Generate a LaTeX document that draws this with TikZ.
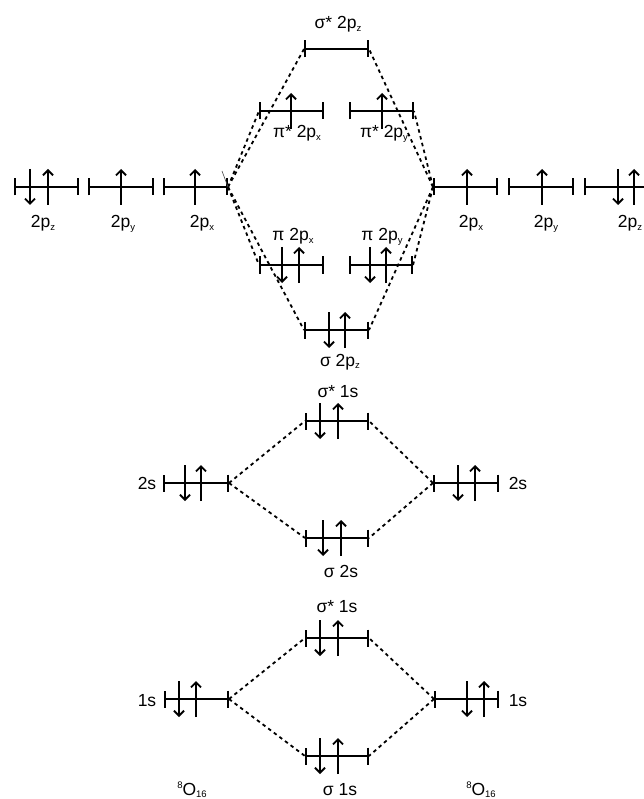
\documentclass[tikz,border=0pt]{standalone}
\usepackage{fontspec}
\setmainfont{Liberation Sans}
\usetikzlibrary{arrows.meta}
\newcommand\sbx[1]{\raisebox{-2.5pt}{\fontsize{9.5}{10}\selectfont #1}}
\newcommand\spx[1]{\raisebox{6.5pt}{\fontsize{9.5}{10}\selectfont #1}}
\tikzset{
  levelline/.style={line width=2.1pt, {Bar[width=17pt]}-{Bar[width=17pt]}},
  elec/.style={line width=1.9pt, -{Straight Barb[length=5pt,width=10pt]}},
  conn/.style={line width=1.8pt, dash pattern=on 3.5pt off 3.5pt},
  lab/.style={font=\fontsize{17.5}{20}\selectfont, inner sep=0pt, anchor=base},
}
\newcommand\lvl[4]{%
  \coordinate (#1-l) at (#2,#4);
  \coordinate (#1-r) at (#3,#4);
  \draw[levelline] (#1-l) -- (#1-r);}
\newcommand\eup[2]{\draw[elec] (#1,#2+18) -- (#1,#2-18);}
\newcommand\edn[2]{\draw[elec] (#1,#2-18) -- (#1,#2+18);}
\begin{document}
\begin{tikzpicture}[x=1pt,y=-1pt]
\useasboundingbox (0,0) rectangle (644,799);
% atomic 2p levels
\lvl{a2pzL}{14}{79}{187}  \edn{30}{187} \eup{48}{187}
\lvl{a2pyL}{88}{154}{187} \eup{121}{187}
\lvl{a2pxL}{163}{228}{187} \eup{195}{187}
\lvl{a2pxR}{433}{498}{187} \eup{467}{187}
\lvl{a2pyR}{508}{574}{187} \eup{542}{187}
\lvl{a2pzR}{584}{649}{187} \edn{618}{187} \eup{634}{187}
% molecular 2p levels
\lvl{ss2pz}{304}{369}{49}
\lvl{ps2px}{259}{324}{111} \eup{291}{111}
\lvl{ps2py}{349}{414}{111} \eup{382}{111}
\lvl{p2px}{259}{324}{265} \edn{282}{265} \eup{299}{265}
\lvl{p2py}{349}{413}{265} \edn{370}{265} \eup{386}{265}
\lvl{s2pz}{304}{369}{330} \edn{329}{330} \eup{345}{330}
% 2s
\lvl{ss2s}{305}{369}{421} \edn{320}{421} \eup{338}{421}
\lvl{a2sL}{163}{229}{483} \edn{185}{483} \eup{201}{483}
\lvl{a2sR}{433}{499}{483} \edn{458}{483} \eup{475}{483}
\lvl{s2s}{305}{369}{538} \edn{323}{538} \eup{341}{538}
% 1s
\lvl{ss1s}{305}{369}{638} \edn{320}{638} \eup{338}{638}
\lvl{a1sL}{164}{229}{699} \edn{179}{699} \eup{196}{699}
\lvl{a1sR}{434}{499}{699} \edn{467}{699} \eup{484}{699}
\lvl{s1s}{305}{369}{756} \edn{320}{756} \eup{338}{756}
% connectors
\foreach \m in {ss2pz,ps2px,p2px,s2pz} \draw[conn] (a2pxL-r) -- (\m-l);
\foreach \m in {ss2pz,ps2py,p2py,s2pz} \draw[conn] (a2pxR-l) -- (\m-r);
\foreach \m in {ss2s,s2s} {\draw[conn] (a2sL-r) -- (\m-l); \draw[conn] (a2sR-l) -- (\m-r);}
\foreach \m in {ss1s,s1s} {\draw[conn] (a1sL-r) -- (\m-l); \draw[conn] (a1sR-l) -- (\m-r);}
\coordinate (slant) at (222,171);
\draw[line width=0.6pt, black!70] (slant) -- (a2pxL-r);
% labels
\node[lab] (t1) at (338,29) {σ* 2p\sbx{z}};
\node[lab] (t2) at (297,138) {π* 2p\sbx{x}};
\node[lab] (t3) at (384,138) {π* 2p\sbx{y}};
\node[lab] (t4) at (293,241) {π 2p\sbx{x}};
\node[lab] (t5) at (382,241) {π 2p\sbx{y}};
\node[lab] (t6) at (340,366) {σ 2p\sbx{z}};
\node[lab] (t7) at (338,397) {σ* 1s};
\node[lab] (t8) at (341,577) {σ 2s};
\node[lab] (t9) at (337,612) {σ* 1s};
\node[lab] (t10) at (340,795) {σ 1s};
\node[lab] (l1) at (43,228) {2p\sbx{z}};
\node[lab] (l2) at (123,228) {2p\sbx{y}};
\node[lab] (l3) at (202,228) {2p\sbx{x}};
\node[lab] (r1) at (471,228) {2p\sbx{x}};
\node[lab] (r2) at (546,228) {2p\sbx{y}};
\node[lab] (r3) at (630,228) {2p\sbx{z}};
\node[lab] (l4) at (147,489) {2s};
\node[lab] (r4) at (518,489) {2s};
\node[lab] (l5) at (147,706) {1s};
\node[lab] (r5) at (518,706) {1s};
\node[lab] (oL) at (192,795) {\spx{8}O\sbx{16}};
\node[lab] (oR) at (481,795) {\spx{8}O\sbx{16}};
\end{tikzpicture}
\end{document}
